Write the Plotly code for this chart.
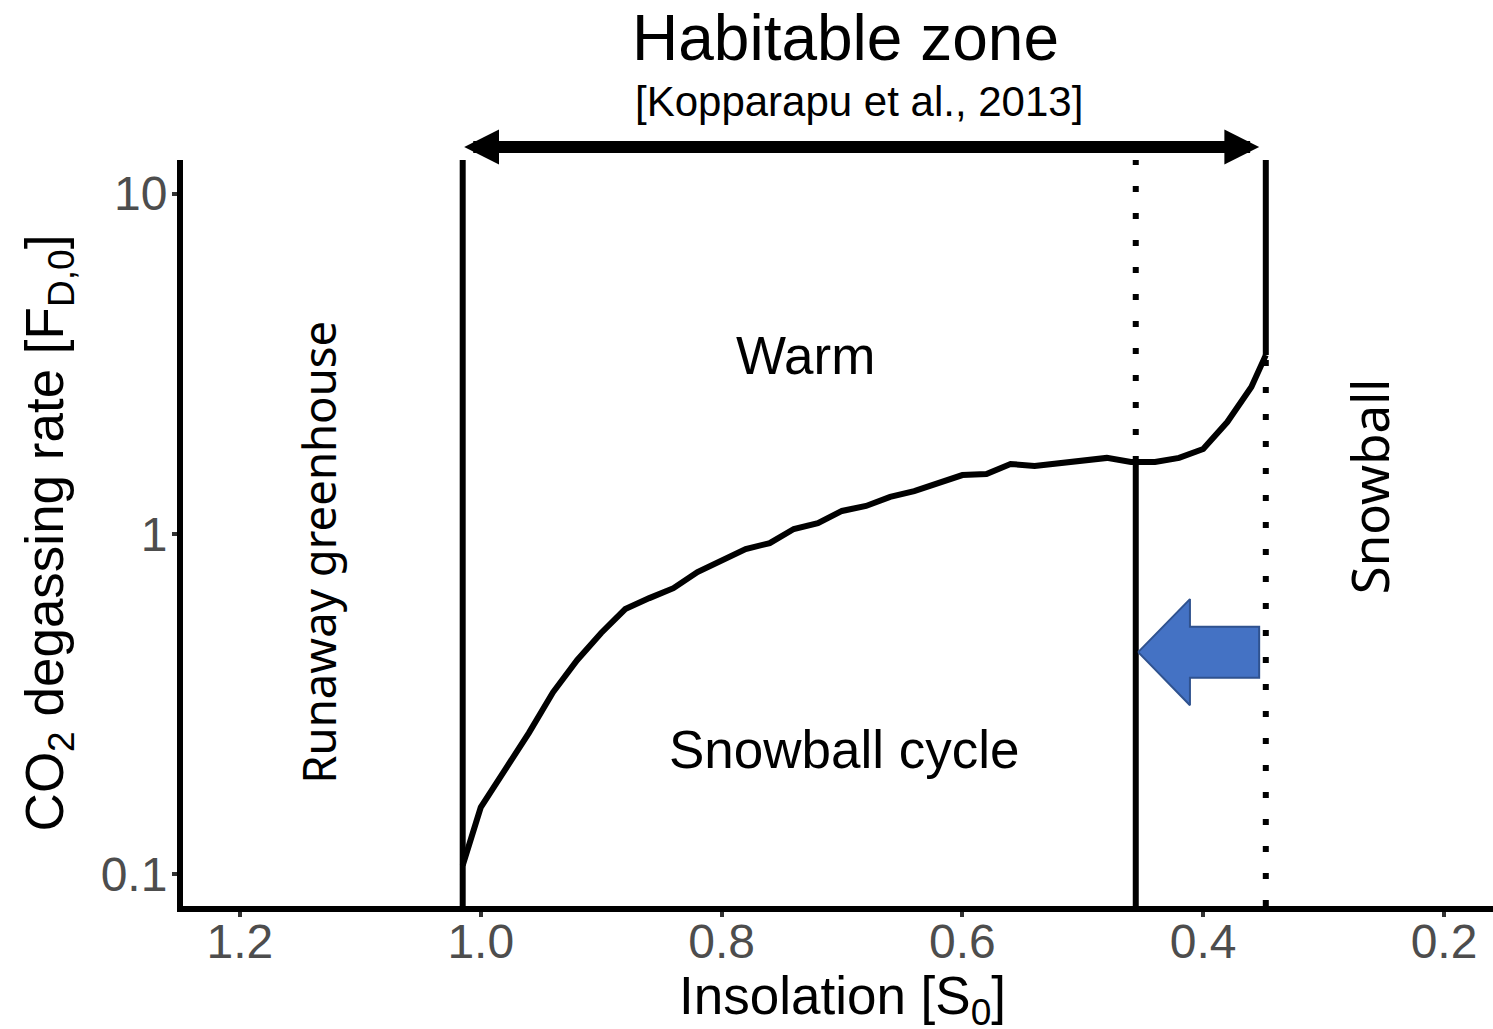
import numpy as np
import plotly.graph_objects as go

# ---- data ----
insolation = [1.015, 1.00, 0.98, 0.96, 0.94, 0.92, 0.90, 0.88, 0.86, 0.84, 0.82, 0.80,
              0.78, 0.76, 0.74, 0.72, 0.70, 0.68, 0.66, 0.64, 0.62, 0.60, 0.58, 0.56,
              0.54, 0.52, 0.50, 0.48, 0.46, 0.44, 0.42, 0.40, 0.38, 0.36, 0.348]
degassing = [0.106, 0.157, 0.202, 0.260, 0.342, 0.425, 0.511, 0.601, 0.647, 0.692, 0.772, 0.838,
             0.902, 0.939, 1.033, 1.075, 1.167, 1.207, 1.283, 1.335, 1.41, 1.488, 1.499, 1.604,
             1.582, 1.614, 1.648, 1.671, 1.625, 1.625, 1.671, 1.775, 2.13, 2.70, 3.35]

hz_inner = 1.015          # runaway greenhouse limit
hz_outer = 0.348          # maximum greenhouse limit
cycle_edge = 0.456        # snowball-cycle boundary
cycle_edge_y = 1.625

x_ticks = [1.2, 1.0, 0.8, 0.6, 0.4, 0.2]
x_tick_labels = ["1.2", "1.0", "0.8", "0.6", "0.4", "0.2"]
y_ticks = [0.1, 1, 10]
y_tick_labels = ["0.1", "1", "10"]

x_range = [1.2473, 0.1593]
y_range_log = [-1.094, 1.0985]
y_bot = 10 ** y_range_log[0]
y_top = 10 ** y_range_log[1]

# blue arrow parameters (data units; y in log10)
arr = dict(tip_x=0.454, head_back_x=0.411, tail_x=0.3535, center=-0.348, head_half=0.156, shaft_half=0.075)

fig = go.Figure()

line_w = 6
dotted = "6px,21px"

# main curve
fig.add_trace(go.Scatter(x=insolation, y=degassing, mode="lines",
                         line=dict(color="black", width=line_w), hoverinfo="skip"))
# left solid vertical (runaway greenhouse)
fig.add_trace(go.Scatter(x=[hz_inner, hz_inner], y=[y_bot, y_top], mode="lines",
                         line=dict(color="black", width=line_w)))
# right solid vertical (above curve)
fig.add_trace(go.Scatter(x=[hz_outer, hz_outer], y=[degassing[-1], y_top], mode="lines",
                         line=dict(color="black", width=line_w)))
# right dotted vertical (below curve)
fig.add_trace(go.Scatter(x=[hz_outer, hz_outer], y=[y_bot, degassing[-1]], mode="lines",
                         line=dict(color="black", width=line_w, dash=dotted)))
# cycle boundary solid (below curve)
fig.add_trace(go.Scatter(x=[cycle_edge, cycle_edge], y=[y_bot, cycle_edge_y], mode="lines",
                         line=dict(color="black", width=line_w)))
# cycle boundary dotted (above curve)
fig.add_trace(go.Scatter(x=[cycle_edge, cycle_edge], y=[cycle_edge_y, y_top], mode="lines",
                         line=dict(color="black", width=line_w, dash=dotted)))

# blue block arrow
c = arr["center"]
ax_pts = [arr["tip_x"], arr["head_back_x"], arr["head_back_x"], arr["tail_x"], arr["tail_x"],
          arr["head_back_x"], arr["head_back_x"], arr["tip_x"]]
ay_log = [c, c + arr["head_half"], c + arr["shaft_half"], c + arr["shaft_half"], c - arr["shaft_half"],
          c - arr["shaft_half"], c - arr["head_half"], c]
fig.add_trace(go.Scatter(x=ax_pts, y=[10 ** v for v in ay_log], mode="lines", fill="toself",
                         fillcolor="#4472C4", line=dict(color="#2F528F", width=2)))

label_font = dict(family="Liberation Sans, Arial", color="black")
side_font = dict(family="Noto Sans, Open Sans", color="black")

plot_left, plot_right = 183, 1493
plot_top, plot_bot = 160, 906
pw = plot_right - plot_left
ph = plot_bot - plot_top


def px_x(px):
    return (px - plot_left) / pw


def px_y(py):
    return (plot_bot - py) / ph


annotations = [
    dict(text="Warm", x=0.7303, y=0.525, xref="x", yref="y", showarrow=False,
         font=dict(size=53, **label_font)),
    dict(text="Snowball cycle", x=0.698, y=-0.633, xref="x", yref="y", showarrow=False,
         font=dict(size=53, **label_font)),
    dict(text="Runaway greenhouse", x=1.135, y=-0.055, xref="x", yref="y", showarrow=False,
         textangle=-90, font=dict(size=45.5, **side_font)),
    dict(text="Snowball", x=0.2622, y=0.14, xref="x", yref="y", showarrow=False,
         textangle=-90, font=dict(size=51, **side_font)),
    dict(text="Habitable zone", x=px_x(845), y=px_y(38), xref="paper", yref="paper",
         xanchor="center", yanchor="middle", showarrow=False,
         font=dict(size=64, **label_font)),
    dict(text="[Kopparapu et al., 2013]", x=px_x(859), y=px_y(101), xref="paper", yref="paper",
         xanchor="center", yanchor="middle", showarrow=False,
         font=dict(size=42, **label_font)),
    # x-axis title
    dict(text="Insolation [S<sub>0</sub>]", x=px_x(842), y=px_y(999), xref="paper", yref="paper",
         xanchor="center", yanchor="middle", showarrow=False,
         font=dict(size=53, **label_font)),
    # double headed arrow
    dict(text="", x=0.3535, y=px_y(147), xref="x", yref="paper", ax=1.015, axref="x", ay=0,
         ayref="pixel", showarrow=True, arrowhead=2, startarrowhead=2, arrowside="end+start",
         arrowwidth=12, arrowsize=0.58, startarrowsize=0.58, arrowcolor="black", standoff=0,
         startstandoff=0),
]

fig.update_layout(
    width=1493, height=1029,
    margin=dict(l=plot_left, r=1493 - plot_right, t=plot_top, b=1029 - plot_bot, pad=0),
    paper_bgcolor="white", plot_bgcolor="white",
    showlegend=False,
    annotations=annotations,
    font=dict(family="Liberation Sans, Arial", color="black"),
)
fig.update_xaxes(range=x_range, tickvals=x_ticks, ticktext=x_tick_labels, automargin=False,
                 showgrid=False, zeroline=False, showline=True, linecolor="black", linewidth=6,
                 ticks="outside", ticklen=5, tickwidth=4, tickcolor="#333333",
                 ticklabelstandoff=-17,
                 tickfont=dict(size=48, color="#4D4D4D", family="Liberation Sans, Arial"))
fig.update_yaxes(type="log", range=y_range_log, tickvals=y_ticks, ticktext=y_tick_labels,
                 automargin=False,
                 showgrid=False, zeroline=False, showline=True, linecolor="black", linewidth=6,
                 ticks="outside", ticklen=5, tickwidth=4, tickcolor="#333333",
                 ticklabelstandoff=-5,
                 tickfont=dict(size=48, color="#4D4D4D", family="Liberation Sans, Arial"),
                 title=dict(text="CO<sub>2</sub> degassing rate [F<sub>D,0</sub>]", standoff=22,
                            font=dict(size=53, color="black", family="Liberation Sans, Arial")))

fig.write_html("out.html")
